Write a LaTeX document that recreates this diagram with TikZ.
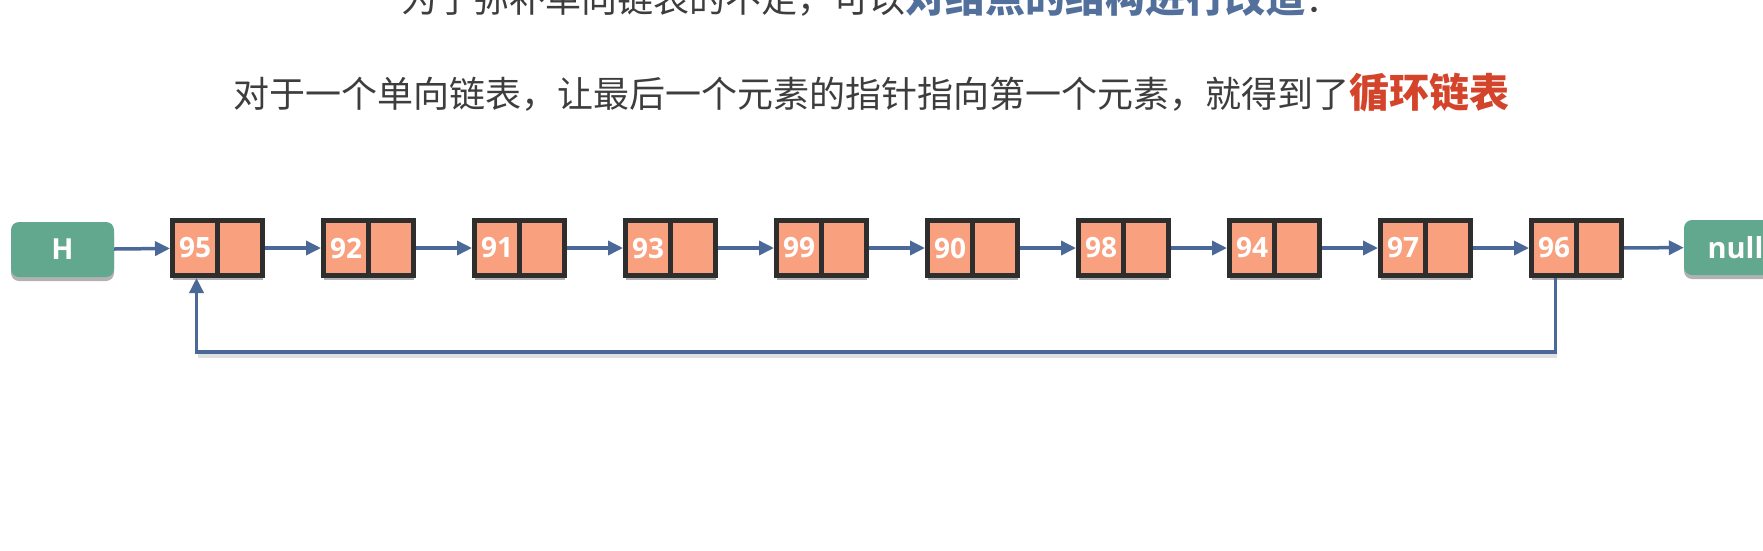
\documentclass[tikz,border=0pt]{standalone}
\usepackage{fontspec}
\setmainfont{Open Sans}
\newfontfamily\cjk{Noto Sans CJK SC}
\usetikzlibrary{arrows.meta,shadows}
\definecolor{txt}{HTML}{3D3D3D}
\definecolor{blu}{HTML}{52709B}
\definecolor{redt}{HTML}{D4442A}
\definecolor{grn}{HTML}{62A88E}
\definecolor{cellfill}{HTML}{F9A17F}
\definecolor{dark}{HTML}{2E2E2E}
\definecolor{arrc}{HTML}{4A6898}
\begin{document}
\begin{tikzpicture}[x=1pt,y=-1pt,
  cell/.style={draw=dark,line width=5pt,fill=cellfill,minimum width=90pt,minimum height=55pt,inner sep=0pt,
    font=\fontsize{28}{28}\selectfont\bfseries,text=white,
    drop shadow={shadow xshift=0pt,shadow yshift=-4pt,opacity=0.3,fill=black},
    path picture={\draw[line width=5pt,dark] (path picture bounding box.north) -- (path picture bounding box.south);}},
  term/.style={fill=grn,rounded corners=8pt,minimum width=103pt,minimum height=55pt,inner sep=0pt,
    font=\fontsize{29}{29}\selectfont\bfseries,text=white,
    drop shadow={shadow xshift=0pt,shadow yshift=-4pt,opacity=0.3,fill=black}},
  arr/.style={draw=arrc,line width=3.5pt,-{Triangle[length=15pt,width=14pt]}},
  line1/.style={anchor=base west,inner sep=0pt,text=txt,font=\cjk\fontsize{36}{40}\selectfont}
  ]
\fill[white] (0,0) rectangle (1763,550);
\useasboundingbox (0,0) rectangle (1763,550);

\node[line1] (t1) at (401,12.5) {为了弥补单向链表的不足，可以{\fontsize{40}{44}\selectfont\bfseries\color{blu}对结点的结构进行改造}：};
\node[line1] (t2) at (233,107.5) {对于一个单向链表，让最后一个元素的指针指向第一个元素，就得到了{\fontsize{40}{44}\selectfont\bfseries\color{redt}循环链表}};

\node[term] (H) at (62.5,249.5) {H};
\node[term] (null) at (1735.5,247.5) {null};

\foreach \v [count=\i] in {95,92,91,93,99,90,98,94,97,96}
  \node[cell] (n\i) at ({217.5+151*(\i-1)},248) {\makebox[45pt]{\v}\makebox[45pt]{}};

\draw[arr] (H) -- (n1);
\foreach \i [evaluate=\i as \j using int(\i+1)] in {1,...,9}
  \draw[arr] (n\i) -- (n\j);
\draw[arr] (n10) -- (null);

\coordinate (c1) at (1555.5,352);
\coordinate (c2) at (196.5,352);
\draw[black,opacity=0.12,line width=3.5pt] ([xshift=1pt,yshift=-4pt]c1) -- ([xshift=1pt,yshift=-4pt]c2);
\draw[arr] ([xshift=-21pt]n10.south) -- (c1) -- (c2) -- ([xshift=-21pt]n1.south);
\end{tikzpicture}
\end{document}
